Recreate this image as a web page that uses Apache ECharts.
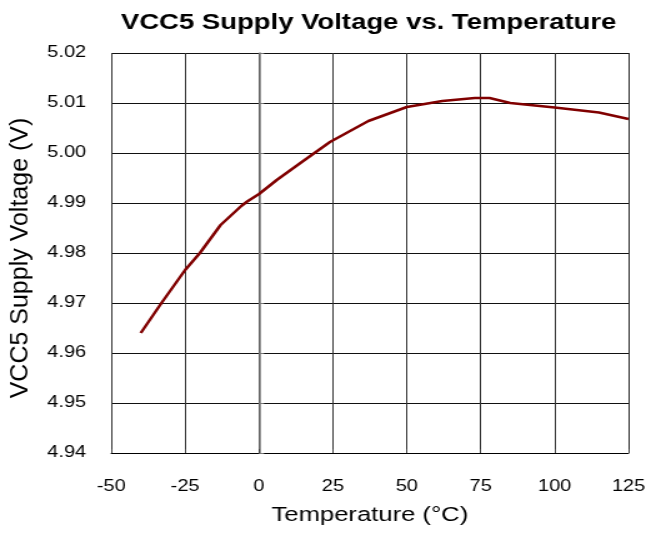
<!DOCTYPE html>
<html>
<head>
<meta charset="utf-8">
<script src="https://cdn.jsdelivr.net/npm/echarts@6/dist/echarts.min.js"></script>
<style>
  html, body { margin: 0; padding: 0; background: #fff; overflow: hidden; }
  /* the reference text is wide, so draw narrow and stretch sideways */
  #chart { width: 517px; height: 534px; transform: scaleX(1.2495); transform-origin: 0 0; }
</style>
</head>
<body>
<div id="chart"></div>
<script>
  // values
  var temps = [-40, -33, -25, -20, -13, -6, -4, 0, 6, 14, 24, 37, 50, 62, 73, 78, 85, 100, 115, 125]
  var volts = [4.964, 4.970, 4.9766, 4.980, 4.9856, 4.9894, 4.9903, 4.9918, 4.9946, 4.998,
    5.0022, 5.0064, 5.0092, 5.0104, 5.0110, 5.0110, 5.0100, 5.0091, 5.0081, 5.0068]

  var stretch = 1.2495
  var chart = echarts.init(document.getElementById('chart'))
  var font = 'Liberation Sans, Arial, sans-serif'

  chart.setOption({
    animation: false,
    title: {
      text: 'VCC5 Supply Voltage vs. Temperature',
      left: 290,
      textAlign: 'center',
      top: 7,
      textStyle: { fontFamily: font, fontSize: 22, fontWeight: 'bold', color: '#000' }
    },
    // y axis title drawn by hand so the sideways stretch does not fatten it
    graphic: [{
      type: 'text',
      x: 16,
      y: 258,
      rotation: Math.PI / 2,
      scaleY: 1 / stretch,
      style: {
        text: 'VCC5 Supply Voltage (V)',
        font: '25px ' + font,
        fill: '#000',
        align: 'center',
        verticalAlign: 'middle'
      }
    }],
    grid: { left: 89, right: 14, top: 53, bottom: 81, outerBoundsMode: 'none' },
    xAxis: {
      type: 'value',
      min: -50,
      max: 125,
      interval: 25,
      name: 'Temperature (°C)',
      nameLocation: 'middle',
      nameGap: 52,
      nameTextStyle: { fontFamily: font, fontSize: 20.5, color: '#000' },
      axisLine: { lineStyle: { color: '#000', width: 1 } },
      axisTick: { show: true, inside: true, length: 4, lineStyle: { color: '#444' } },
      axisLabel: { fontFamily: font, fontSize: 16, color: '#000', margin: 26 },
      splitLine: { show: true, lineStyle: { color: '#333', width: 1 } }
    },
    yAxis: {
      type: 'value',
      min: 4.94,
      max: 5.02,
      interval: 0.01,
      axisLine: { show: true, lineStyle: { color: '#777', width: 1.5 } },
      axisTick: { show: true, inside: true, length: 4, lineStyle: { color: '#777' } },
      axisLabel: {
        fontFamily: font, fontSize: 16, color: '#000', margin: 20,
        formatter: function (v) { return v.toFixed(2) }
      },
      splitLine: { show: true, lineStyle: { color: '#111', width: 1 } }
    },
    series: [{
      type: 'line',
      data: temps.map(function (t, i) { return [t, volts[i]] }),
      showSymbol: false,
      smooth: false,
      lineStyle: { color: '#800000', width: 2.5 },
      itemStyle: { color: '#800000' }
    }]
  })
</script>
</body>
</html>
